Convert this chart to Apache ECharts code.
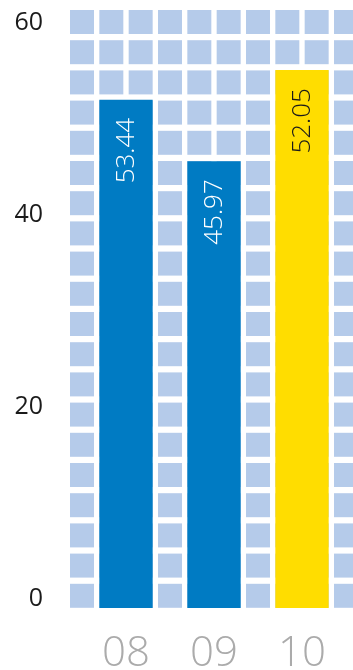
<!DOCTYPE html>
<html>
<head>
<meta charset="utf-8">
<script src="https://cdn.jsdelivr.net/npm/echarts@6/dist/echarts.min.js"></script>
<style>
html,body{margin:0;padding:0;background:#fff;}
#c{width:353px;height:670px;}
</style>
</head>
<body>
<div id="c"></div>
<script>
// ---- data ----
var categories = ['08', '09', '10'];
var labelValues = [53.44, 45.97, 52.05];      // printed values
var barHeights = [52.0, 45.6, 55.1];          // drawn heights
var barBase = -0.95;                          // bars start slightly below 0
var barColors = ['#007BC3', '#007BC3', '#FFDD00'];
var labelColors = ['#ffffff', '#ffffff', '#1a1a1a'];
var yTicks = [0, 20, 40, 60];
var tileCols = 10;
var tileRows = 20;

var tiles = [];
for (var c = 0; c < tileCols; c++) {
  for (var r = 0; r < tileRows; r++) tiles.push([c, r]);
}

var chart = echarts.init(document.getElementById('c'), null, {renderer: 'canvas'});
var FONT = '"Open Sans", "Noto Sans", sans-serif';

chart.setOption({
  animation: false,
  grid: [
    {left: 70, top: 10, width: 293.33, height: 604, outerBoundsMode: 'none'},
    {left: 82, top: 23, width: 264, height: 576, outerBoundsMode: 'none'}
  ],
  xAxis: [
    {gridIndex: 0, type: 'value', min: 0, max: tileCols, show: false},
    {gridIndex: 1, type: 'category', data: categories,
     axisLine: {show: false}, axisTick: {show: false}, splitLine: {show: false},
     axisLabel: {color: '#ABABAB', fontSize: 42, fontFamily: FONT, fontWeight: 300, margin: 34}}
  ],
  yAxis: [
    {gridIndex: 0, type: 'value', min: 0, max: tileRows, inverse: true, show: false},
    {gridIndex: 1, type: 'value', min: 0, max: 60, interval: 20,
     axisLine: {show: false}, axisTick: {show: false}, splitLine: {show: false},
     axisLabel: {color: '#1a1a1a', fontSize: 25, fontFamily: FONT, margin: 39,
       customValues: yTicks}}
  ],
  series: [
    {
      type: 'custom', xAxisIndex: 0, yAxisIndex: 0, data: tiles, silent: true,
      renderItem: function (params, api) {
        var c = api.value(0), r = api.value(1);
        var p = api.coord([c, r]);
        var q = api.coord([c + 1, r + 1]);
        var cw = q[0] - p[0], ch = q[1] - p[1];
        return {type: 'rect', shape: {x: p[0], y: p[1], width: cw * 24 / 29.333, height: ch * 24 / 30.2},
                style: {fill: '#B5CBEA'}};
      }
    },
    {
      type: 'custom', xAxisIndex: 1, yAxisIndex: 1,
      data: categories.map(function (c, i) { return [i, barHeights[i]]; }),
      renderItem: function (params, api) {
        var i = api.value(0);
        var top = api.coord([i, api.value(1)]);
        var bot = api.coord([i, barBase]);
        var w = api.size([1, 0])[0] * 53.33 / 88;
        return {type: 'group', children: [
          {type: 'rect', shape: {x: top[0] - w / 2, y: top[1], width: w, height: bot[1] - top[1]},
           style: {fill: barColors[i]}},
          {type: 'text', x: top[0] + 1, y: top[1] + 18, rotation: Math.PI / 2,
           style: {text: labelValues[i].toFixed(2), fill: labelColors[i], fontSize: 26, fontFamily: FONT,
                   fontWeight: 300, align: 'right', verticalAlign: 'middle'}}
        ]};
      }
    }
  ]
});
</script>
</body>
</html>
